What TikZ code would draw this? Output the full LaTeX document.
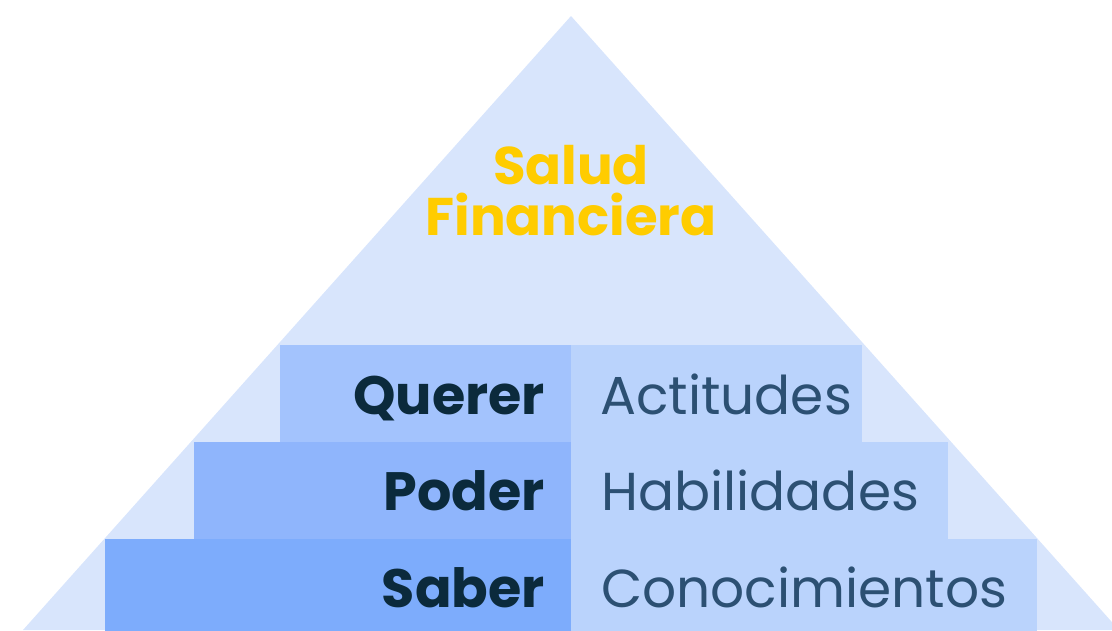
\documentclass[tikz,border=0pt]{standalone}
\usepackage{fontspec}
\setmainfont{Poppins}
\definecolor{tri}{HTML}{D8E5FC}
\definecolor{qleft}{HTML}{A3C3FD}
\definecolor{pleft}{HTML}{8FB5FC}
\definecolor{sleft}{HTML}{7DACFC}
\definecolor{rbox}{HTML}{BAD3FC}
\definecolor{darktxt}{HTML}{0B2A3C}
\definecolor{lighttxt}{HTML}{2C5073}
\definecolor{gold}{HTML}{FFCC00}
\tikzset{
  box/.style={anchor=north west, inner sep=0pt, outer sep=0pt, draw=none},
  lefttxt/.style={anchor=base east, inner sep=0pt, text=darktxt, font=\bfseries\fontsize{54}{60}\selectfont},
  righttxt/.style={anchor=base west, inner sep=0pt, text=lighttxt, font=\fontsize{53.4}{60}\selectfont},
  titletxt/.style={anchor=base, inner sep=0pt, text=gold, font=\bfseries\fontsize{53}{58}\selectfont}
}
\begin{document}
\begin{tikzpicture}[x=1pt,y=-1pt]
\useasboundingbox (0,0) rectangle (1112,630);
\clip (0,0) rectangle (1112,630);
\fill[tri] (571,16) -- (1119,630) -- (23,630) -- cycle;
% rows
\node[box, fill=qleft, minimum width=291pt, minimum height=97pt] (qL) at (280,345) {};
\node[box, fill=rbox, minimum width=291pt, minimum height=97pt] (qR) at (571,345) {};
\node[box, fill=pleft, minimum width=377pt, minimum height=97pt] (pL) at (194,442) {};
\node[box, fill=rbox, minimum width=377pt, minimum height=97pt] (pR) at (571,442) {};
\node[box, fill=sleft, minimum width=466pt, minimum height=92pt] (sL) at (105,539) {};
\node[box, fill=rbox, minimum width=466pt, minimum height=92pt] (sR) at (571,539) {};
% texts
\node[lefttxt] (querer) at (545,414) {Querer};
\node[lefttxt] (poder) at (545,510) {Poder};
\node[lefttxt] (saber) at (545,607) {Saber};
\node[righttxt] (actitudes) at (600,414) {Actitudes};
\node[righttxt] (habilidades) at (601,510) {Habilidades};
\node[righttxt] (conoc) at (601,607) {Conocimientos};
\node[titletxt] (salud) at (571,184) {Salud};
\node[titletxt] (fin) at (571,235) {Financiera};
\end{tikzpicture}
\end{document}
